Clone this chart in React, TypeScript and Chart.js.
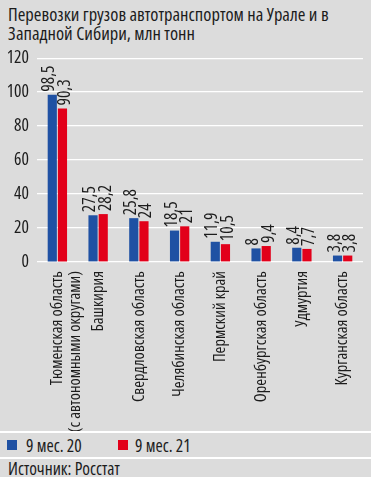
import React, { useEffect, useRef } from "react";
import { Chart, registerables } from "chart.js";

Chart.register(...registerables);

const TITLE_LINES = ["Перевозки грузов автотранспортом на Урале и в", "Западной Сибири, млн тонн"];
const SOURCE = "Источник: Росстат";
const categories: (string | string[])[] = [
  ["Тюменская область", "(с автономными округами)"],
  "Башкирия",
  "Свердловская область",
  "Челябинская область",
  "Пермский край",
  "Оренбургская область",
  "Удмуртия",
  "Курганская область",
];
const seriesNames = ["9 мес. 20", "9 мес. 21"];
const values2020 = [98.5, 27.5, 25.8, 18.5, 11.9, 8, 8.4, 3.8];
const values2021 = [90.3, 28.2, 24, 21, 10.5, 9.4, 7.7, 3.8];
const yTicks = [0, 20, 40, 60, 80, 100, 120];

const BLUE = "#1f51a3";
const RED = "#e2001a";
const BG = "#dcdcdc";
const TEXT = "#1c1c1c";
const FAMILY = '"Open Sans", sans-serif';

const labelOffsets = [-3, 2.5];

const barLabels = {
  id: "barLabels",
  afterDatasetsDraw(chart: any) {
    const ctx = chart.ctx;
    chart.data.datasets.forEach((ds: any, i: number) => {
      const meta = chart.getDatasetMeta(i);
      meta.data.forEach((bar: any, j: number) => {
        const v = ds.data[j];
        ctx.save();
        ctx.translate(bar.x + labelOffsets[i], bar.y - 3);
        ctx.rotate(-Math.PI / 2);
        ctx.textAlign = "left";
        ctx.textBaseline = "middle";
        ctx.font = `condensed 17.5px ${FAMILY}`;
        ctx.fillStyle = TEXT;
        ctx.fillText(String(v).replace(".", ","), 0, 0);
        ctx.restore();
      });
    });
  },
};

export default function App() {
  const ref = useRef<HTMLCanvasElement | null>(null);

  useEffect(() => {
    if (!ref.current) return;
    const chart = new Chart(ref.current, {
      type: "bar",
      data: {
        labels: categories,
        datasets: [
          {
            label: seriesNames[0],
            data: values2020,
            backgroundColor: BLUE,
            categoryPercentage: 0.5,
            barPercentage: 0.9,
          },
          {
            label: seriesNames[1],
            data: values2021,
            backgroundColor: RED,
            categoryPercentage: 0.5,
            barPercentage: 0.9,
          },
        ],
      },
      options: {
        animation: false,
        responsive: false,
        layout: { padding: { left: 0, right: 8, top: 3, bottom: 0 } },
        plugins: {
          legend: { display: false },
          title: { display: false },
          tooltip: { enabled: false },
        },
        scales: {
          x: {
            grid: { display: false },
            border: { display: false },
            ticks: {
              minRotation: 90,
              maxRotation: 90,
              autoSkip: false,
              padding: 1,
              color: TEXT,
              font: { family: FAMILY, size: 16.5, weight: "condensed" as any, lineHeight: 1.1 },
            },
            afterFit(scale: any) {
              scale.height = 169;
            },
          },
          y: {
            min: yTicks[0],
            max: yTicks[yTicks.length - 1],
            grid: { color: "#ffffff", lineWidth: 1.2, drawTicks: false },
            border: { display: false },
            ticks: {
              stepSize: yTicks[1] - yTicks[0],
              padding: 8,
              color: TEXT,
              font: { family: FAMILY, size: 17.5, weight: "condensed" as any, lineHeight: 0.24 },
            },
            afterFit(scale: any) {
              scale.width = 37;
            },
          },
        },
      },
      plugins: [barLabels],
    });
    return () => chart.destroy();
  }, []);

  return (
    <div
      style={{
        position: "absolute",
        left: 0,
        top: 0,
        width: 371,
        height: 477,
        overflow: "hidden",
        background: BG,
        fontFamily: FAMILY,
        fontStretch: "condensed",
        color: TEXT,
      }}
    >
      <div
        style={{
          position: "absolute",
          left: 8,
          top: 4,
          width: 360,
          fontSize: 18.5,
          lineHeight: "19px",
          whiteSpace: "nowrap",
        }}
      >
        {TITLE_LINES[0]}
        <br />
        {TITLE_LINES[1]}
      </div>
      <div style={{ position: "absolute", left: 0, top: 48, width: 371, height: 383 }}>
        <canvas ref={ref} width={371} height={383} style={{ width: 371, height: 383, display: "block" }} />
      </div>
      <div style={{ position: "absolute", left: 0, top: 431, width: 371, height: 2, background: "#fff" }} />
      <div
        style={{
          position: "absolute",
          left: 7,
          top: 433,
          height: 24,
          display: "flex",
          alignItems: "center",
          fontSize: 17.5,
        }}
      >
        <span style={{ display: "inline-block", width: 10, height: 10, background: BLUE, marginRight: 9 }} />
        <span style={{ width: 92 }}>{seriesNames[0]}</span>
        <span style={{ display: "inline-block", width: 10, height: 10, background: RED, marginRight: 7 }} />
        <span>{seriesNames[1]}</span>
      </div>
      <div style={{ position: "absolute", left: 0, top: 457, width: 371, height: 2, background: "#fff" }} />
      <div style={{ position: "absolute", left: 8, top: 459, fontSize: 17.5, lineHeight: "18px" }}>{SOURCE}</div>
    </div>
  );
}
